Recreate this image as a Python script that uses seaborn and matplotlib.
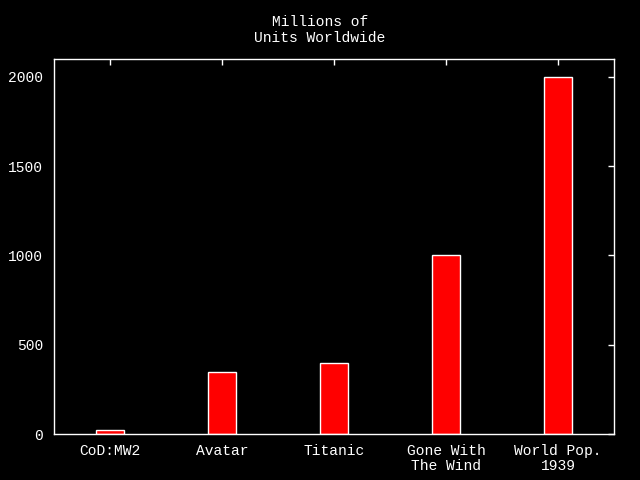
import matplotlib
matplotlib.use("Agg")
import matplotlib.pyplot as plt
import seaborn as sns
import pandas as pd

# data
categories = ["CoD:MW2", "Avatar", "Titanic", "Gone With\nThe Wind", "World Pop.\n1939"]
units = [25, 350, 400, 1000, 2000]
yticks = [0, 500, 1000, 1500, 2000]

df = pd.DataFrame({"item": categories, "units": units})

sns.set_style("dark")
plt.rcParams["font.family"] = ["Liberation Mono", "DejaVu Sans Mono"]

fig = plt.figure(figsize=(6.4, 4.8), dpi=100, facecolor="black")
ax = fig.add_axes([54 / 640, 1 - 434 / 480, (614 - 54) / 640, (434 - 59) / 480])
ax.set_facecolor("black")

sns.barplot(
    data=df, x="item", y="units", color="#ff0000", saturation=1,
    width=0.25, edgecolor="white", linewidth=1, ax=ax,
)

ax.set_xlim(-0.5, 4.5)
ax.set_ylim(0, 2100)
ax.set_yticks(yticks)
ax.set_xlabel("")
ax.set_ylabel("")
ax.grid(False)

for s in ax.spines.values():
    s.set_visible(True)
    s.set_color("white")
    s.set_linewidth(1)

ax.tick_params(
    axis="both", direction="in", length=4, width=1, colors="white",
    top=True, right=True, labelsize=10.5, pad=8,
)
ax.tick_params(axis="x", pad=7)
for lbl in ax.get_xticklabels():
    lbl.set_linespacing(1.1)

fig.text(0.5, 1 - 30 / 480, "Millions of\nUnits Worldwide", color="white",
         ha="center", va="center", fontsize=10.5, linespacing=1.1)

fig.savefig("out.png", dpi=100, facecolor="black")
